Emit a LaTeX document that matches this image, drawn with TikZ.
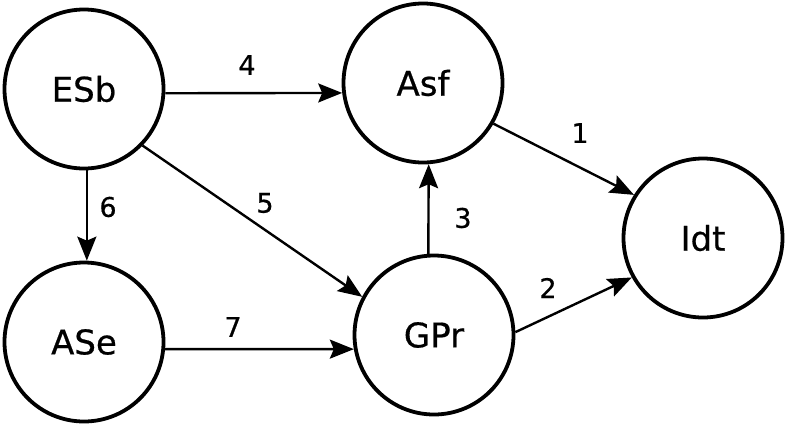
\documentclass[tikz,border=0pt]{standalone}
\usepackage{fontspec}
\newfontfamily\dvsans[FakeBold=0.6]{DejaVu Sans}
\usetikzlibrary{arrows.meta}
\tikzset{
  state/.style={circle, draw=black, line width=3.8pt, minimum size=159pt, inner sep=0pt,
    font=\dvsans\fontsize{34}{40}\selectfont},
  edge/.style={line width=2.4pt, -{Stealth[length=24pt, width=19pt, inset=4pt]}},
  elabel/.style={font=\dvsans\fontsize{27}{32}\selectfont, inner sep=0pt}
}
\begin{document}
\begin{tikzpicture}[x=1pt,y=-1pt]
\useasboundingbox (0,0) rectangle (786,426);
\node[state] (ESb) at (84,89) {ESb};
\node[state] (Asf) at (423,83) {Asf};
\node[state] (Idt) at (703,238) {Idt};
\node[state] (ASe) at (84,342) {ASe};
\node[state] (GPr) at (434,335) {GPr};

\draw[edge] (Asf.-30) -- (Idt.148);
\draw[edge] (GPr.2) -- (Idt.209);
\draw[edge] (GPr.94) -- (Asf.-86);
\draw[edge] (ESb.-3) -- (Asf.187);
\draw[edge] (ESb.-44) -- (GPr.152.5);
\draw[edge] (ESb.-88) -- (ASe.88);
\draw[edge] (ASe.-5) -- (GPr.190);

\node[elabel] (l1) at (580,133) {1};
\node[elabel] (l2) at (548,288) {2};
\node[elabel] (l3) at (463,218) {3};
\node[elabel] (l4) at (247,65) {4};
\node[elabel] (l5) at (265,203) {5};
\node[elabel] (l6) at (108,207) {6};
\node[elabel] (l7) at (233,327) {7};
\end{tikzpicture}
\end{document}
